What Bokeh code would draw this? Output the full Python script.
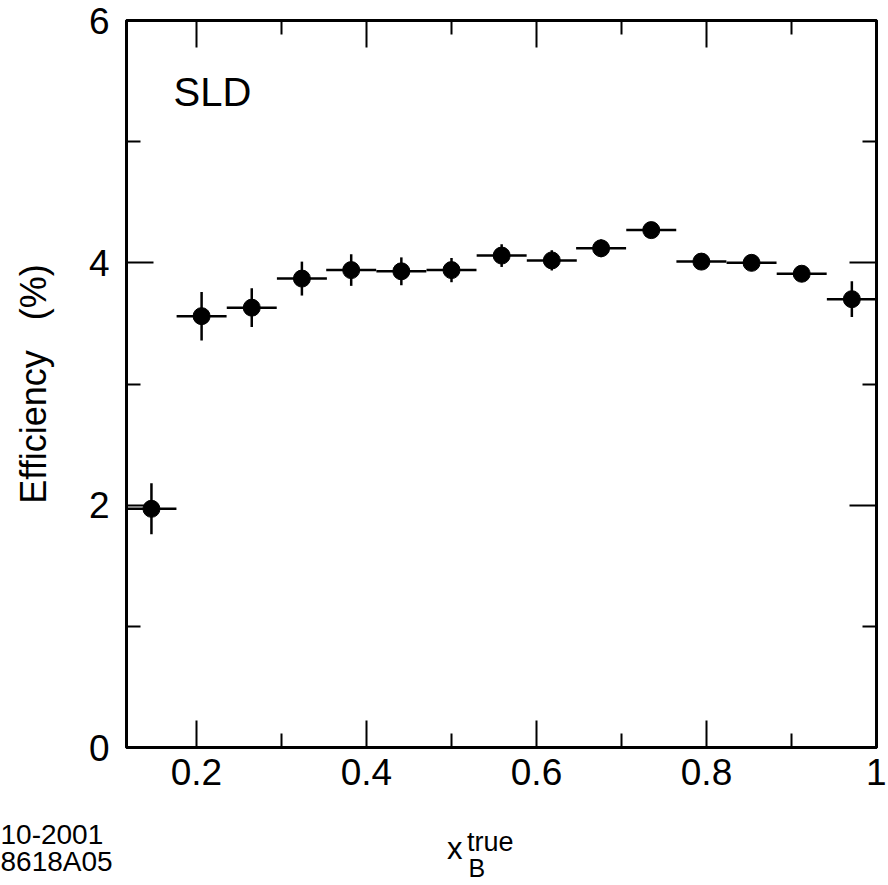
from bokeh.plotting import figure
from bokeh.models import (Range1d, LinearAxis, FixedTicker, CustomJSTickFormatter,
                          ColumnDataSource)
from bokeh.core.properties import value
from bokeh.embed import file_html
from bokeh.resources import INLINE

# ---------------- data ----------------
x_bin_center = [0.147, 0.206, 0.265, 0.324, 0.382, 0.441, 0.500, 0.559,
                0.618, 0.676, 0.735, 0.794, 0.853, 0.912, 0.971]
x_bin_halfwidth = [0.0294] * 15
efficiency = [1.97, 3.56, 3.63, 3.87, 3.94, 3.93, 3.94, 4.06,
              4.02, 4.12, 4.27, 4.01, 4.00, 3.91, 3.70]
efficiency_err = [0.21, 0.20, 0.16, 0.14, 0.13, 0.115, 0.10, 0.094,
                  0.083, 0.073, 0.04, 0.04, 0.04, 0.04, 0.147]

x_major_ticks = [0.2, 0.4, 0.6, 0.8, 1.0]
x_minor_ticks = [0.3, 0.5, 0.7, 0.9]
y_major_ticks = [0, 2, 4, 6]
y_minor_ticks = [1, 3, 5]

y_title = "Efficiency\u00a0\u00a0\u00a0(%)"
x_title_main, x_title_sub, x_title_sup = "x", "B", "true"
stamp_lines = ["10-2001", "8618A05"]
experiment = "SLD"

FONT = "Liberation Sans"

src = ColumnDataSource(dict(
    x=x_bin_center,
    y=efficiency,
    xl=[c - h for c, h in zip(x_bin_center, x_bin_halfwidth)],
    xr=[c + h for c, h in zip(x_bin_center, x_bin_halfwidth)],
    yl=[v - e for v, e in zip(efficiency, efficiency_err)],
    yh=[v + e for v, e in zip(efficiency, efficiency_err)],
))

W = 886
H1 = 800
H2 = 84
FL, FR, FT, FB = 126, 876, 20, 747   # frame edges in canvas pixels

p = figure(width=W, height=H1, output_backend="svg", toolbar_location=None,
           x_range=Range1d(0.11765, 1.0), y_range=Range1d(0, 6),
           min_border_left=FL, min_border_right=W - FR,
           min_border_top=FT, min_border_bottom=H1 - FB)
p.xgrid.visible = False
p.ygrid.visible = False
p.outline_line_color = "black"
p.outline_line_width = 3
p.background_fill_color = "white"
p.border_fill_color = "white"


def style_axis(ax, ticks, minors, labels=True, standoff=10):
    ax.ticker = FixedTicker(ticks=ticks, minor_ticks=minors)
    ax.axis_line_color = "black"
    ax.axis_line_width = 3
    ax.major_tick_in = 27
    ax.major_tick_out = 0
    ax.minor_tick_in = 14
    ax.minor_tick_out = 0
    ax.major_tick_line_width = 2
    ax.minor_tick_line_width = 2
    ax.major_tick_line_color = "black"
    ax.minor_tick_line_color = "black"
    ax.major_label_text_font = FONT
    ax.major_label_text_font_size = "37px"
    ax.major_label_text_color = "black"
    ax.major_label_standoff = standoff
    if not labels:
        ax.formatter = CustomJSTickFormatter(code="return '';")
        ax.major_label_text_font_size = "0px"
        ax.major_label_standoff = 0


xb = p.xaxis[0]
style_axis(xb, x_major_ticks, x_minor_ticks, standoff=11)
xb.formatter = CustomJSTickFormatter(
    code="return Math.abs(tick - 1) < 1e-9 ? '1' : tick.toFixed(1);")
yl = p.yaxis[0]
style_axis(yl, y_major_ticks, y_minor_ticks, standoff=17)
yl.axis_label = y_title
yl.axis_label_text_font = FONT
yl.axis_label_text_font_size = "36px"
yl.axis_label_text_font_style = "normal"
yl.axis_label_text_color = "black"
yl.axis_label_standoff = 32

xt = LinearAxis()
style_axis(xt, x_major_ticks, x_minor_ticks, labels=False)
p.add_layout(xt, "above")
yr = LinearAxis()
style_axis(yr, y_major_ticks, y_minor_ticks, labels=False)
p.add_layout(yr, "right")

# error bars and points
p.segment(x0="xl", y0="y", x1="xr", y1="y", source=src, line_color="black", line_width=2.5)
p.segment(x0="x", y0="yl", x1="x", y1="yh", source=src, line_color="black", line_width=2.5)
p.scatter(x="x", y="y", source=src, marker="circle", size=17,
          fill_color="black", line_color="black")

# experiment tag inside the frame (text box centred vertically on y)
p.text(x=[0.1729], y=[5.413], text=[experiment], text_font=value(FONT),
       text_font_size=value("40px"), text_color="black",
       text_baseline="middle", text_align="left")

# ---------- strip below the plot for axis title and stamp (pixel coordinates) ----------
p2 = figure(width=W, height=H2, output_backend="svg", toolbar_location=None,
            x_range=Range1d(0, W), y_range=Range1d(H1 + H2, H1),
            min_border=0, x_axis_type=None, y_axis_type=None)
p2.outline_line_color = None
p2.background_fill_color = "white"
p2.border_fill_color = "white"
p2.xgrid.visible = False
p2.ygrid.visible = False


def txt(fig, x, baseline, s, size):
    # text box is centred on y; shift from baseline by (ascent - descent)/2
    fig.text(x=[x], y=[baseline - 0.3465 * size], text=[s], text_font=value(FONT),
             text_font_size=value(f"{size}px"), text_color="black",
             text_baseline="middle", text_align="left")


txt(p2, 446.5, 859, x_title_main, 31)
txt(p2, 468, 876, x_title_sub, 25)
txt(p2, 466.5, 851, x_title_sup, 27)
txt(p2, 0, 844, stamp_lines[0], 28)
txt(p2, 0, 871, stamp_lines[1], 28)

open("out.html", "w").write(file_html([p, p2], INLINE))
